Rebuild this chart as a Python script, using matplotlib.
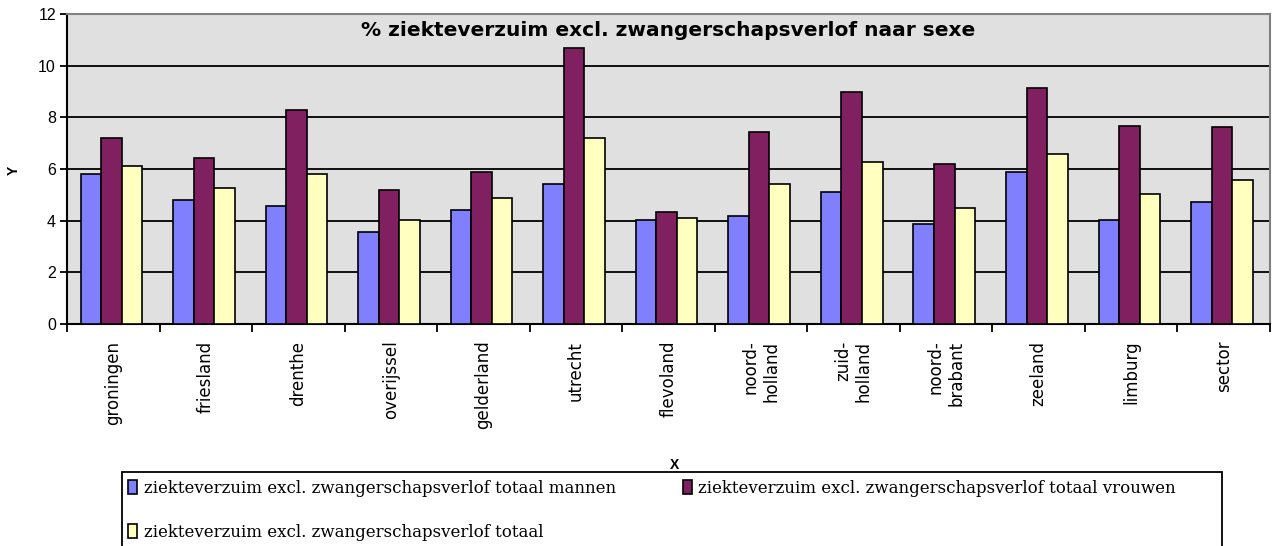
import numpy as np
import matplotlib.pyplot as plt
from matplotlib.patches import Rectangle

regio = ['groningen', 'friesland', 'drenthe', 'overijssel', 'gelderland', 'utrecht',
         'flevoland', 'noord-\nholland', 'zuid-\nholland', 'noord-\nbrabant', 'zeeland',
         'limburg', 'sector']
mannen = [5.82, 4.81, 4.57, 3.56, 4.41, 5.42, 4.04, 4.18, 5.11, 3.87, 5.88, 4.04, 4.74]
vrouwen = [7.21, 6.44, 8.30, 5.19, 5.88, 10.68, 4.35, 7.43, 8.99, 6.21, 9.15, 7.68, 7.61]
totaal = [6.13, 5.26, 5.82, 4.04, 4.88, 7.21, 4.10, 5.43, 6.27, 4.49, 6.59, 5.03, 5.57]

lbl = ['ziekteverzuim excl. zwangerschapsverlof totaal mannen',
       'ziekteverzuim excl. zwangerschapsverlof totaal vrouwen',
       'ziekteverzuim excl. zwangerschapsverlof totaal']
cols = ['#8080ff', '#802060', '#ffffc0']

plt.rcParams['font.family'] = ['Liberation Sans', 'DejaVu Sans']

fig = plt.figure(figsize=(12.78, 5.46), dpi=100)
ax = fig.add_axes([67/1278, 1 - 324/546, 1203/1278, 310/546])
ax.set_facecolor('#e0e0e0')

x = np.arange(len(regio))
w = 0.222
bars = []
for i, (vals, c) in enumerate(zip([mannen, vrouwen, totaal], cols)):
    b = ax.bar(x - 0.02 + (i - 1) * w, vals, w, color=c, edgecolor='black', linewidth=1.2,
               label=lbl[i], zorder=3)
    bars.append(b)

ax.set_xlim(-0.5, len(regio) - 0.5)
ax.set_ylim(0, 12)
ax.set_yticks(range(0, 13, 2))
ax.yaxis.grid(True, color='black', linewidth=1.3, zorder=1)
ax.set_axisbelow(True)

ax.set_xticks(x)
ax.set_xticklabels(regio, rotation=90, fontsize=12, ma='right', family='DejaVu Sans')
ax.tick_params(axis='x', length=0, pad=12)
ax.set_xticks(np.arange(-0.5, len(regio)), minor=True)
ax.tick_params(axis='x', which='minor', length=6, width=1.3, color='black', direction='out')
ax.tick_params(axis='y', length=5, width=1.3, labelsize=11.5, direction='out', pad=3)

for s in ['left', 'bottom']:
    ax.spines[s].set_color('black')
    ax.spines[s].set_linewidth(1.5)
for s in ['top', 'right']:
    ax.spines[s].set_color('#808080')
    ax.spines[s].set_linewidth(1.5)

ax.text(0.5, 0.948, '% ziekteverzuim excl. zwangerschapsverlof naar sexe',
        transform=ax.transAxes, ha='center', va='center', fontsize=14.5,
        fontweight='bold', family='DejaVu Sans')

fig.text(14/1278, 1 - 170/546, 'Y', rotation=90, ha='center', va='center',
         fontsize=10, fontweight='bold')
fig.text(675/1278, 1 - 465/546, 'X', ha='center', va='center', fontsize=10, fontweight='bold')

# legend box runs past the bottom edge as in the original
fig.patches.append(Rectangle((122/1278, -0.02), 1100/1278, (546 - 472)/546 + 0.02,
                             transform=fig.transFigure, facecolor='white',
                             edgecolor='black', linewidth=1.3, zorder=1))

leg = fig.legend([bars[0], bars[2], bars[1]], [lbl[0], lbl[2], lbl[1]], ncol=2,
                 loc='upper left', bbox_to_anchor=(128/1278, 1 - 480/546),
                 frameon=False, borderpad=0, borderaxespad=0, labelspacing=1.6,
                 handlelength=0.55, handleheight=0.95, handletextpad=0.4, columnspacing=4.0,
                 prop={'family': 'DejaVu Serif', 'size': 12})
leg.set_zorder(5)

fig.savefig('out.png', dpi=100)
